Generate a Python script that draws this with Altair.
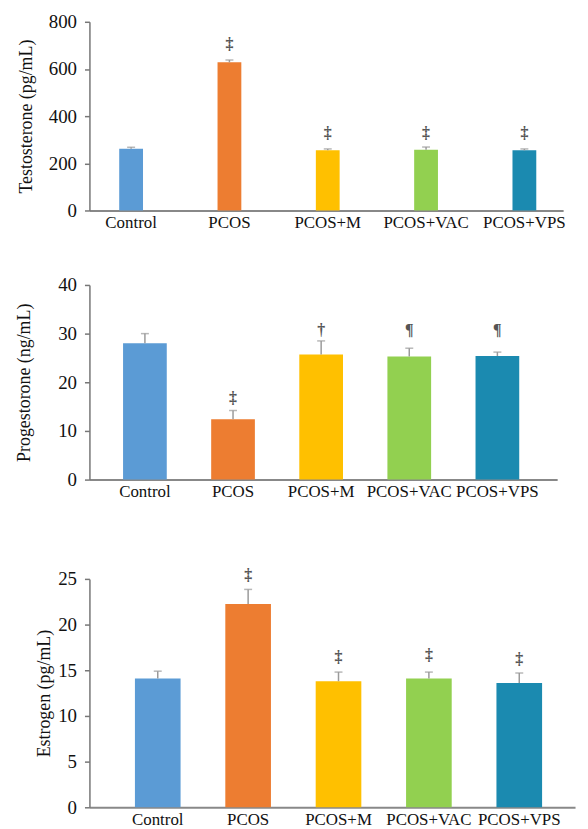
import altair as alt
import pandas as pd

groups = ["Control", "PCOS", "PCOS+M", "PCOS+VAC", "PCOS+VPS"]
colors = ["#5B9BD5", "#ED7D31", "#FFC000", "#92D050", "#1B8AB0"]

testo = [262, 628, 255, 257, 255]
testo_err = [6, 10, 6, 12, 6]
testo_sig = ["", "‡", "‡", "‡", "‡"]
testo_sig_y = [None, 707, 328, 328, 328]

prog = [28.0, 12.4, 25.7, 25.3, 25.4]
prog_err = [2.0, 1.8, 2.8, 1.7, 0.8]
prog_sig = ["", "‡", "†", "¶", "¶"]
prog_sig_y = [None, 16.7, 30.7, 30.7, 30.7]

estr = [14.1, 22.25, 13.8, 14.1, 13.6]
estr_err = [0.8, 1.6, 1.0, 0.7, 1.1]
estr_sig = ["", "‡", "‡", "‡", "‡"]
estr_sig_y = [None, 25.4, 16.4, 16.7, 16.2]

FONT = "Liberation Serif"


def panel(vals, errs, sigs, sig_y, title, ymax, step, width, height,
          pin, pout, palign, tpad):
    df = pd.DataFrame({
        "group": groups,
        "value": vals,
        "hi": [v + e for v, e in zip(vals, errs)],
        "sig": sigs,
        "sig_y": sig_y,
    })
    xenc = alt.X("group:N", sort=groups,
                 scale=alt.Scale(paddingInner=pin, paddingOuter=pout, align=palign),
                 axis=alt.Axis(title=None, labelAngle=0, ticks=False, labelPadding=4,
                               labelFont=FONT, labelFontSize=17, labelColor="#111",
                               domainColor="#888", domainWidth=2))
    yscale = alt.Scale(domain=[0, ymax], nice=False)
    yaxis = alt.Axis(title=title, values=list(range(0, ymax + 1, step)), grid=False,
                     tickSize=5, tickColor="#777", tickWidth=1.5,
                     domainColor="#777", domainWidth=1.5,
                     labelFont=FONT, labelFontSize=19, labelColor="#111", labelPadding=8,
                     titleFont=FONT, titleFontSize=18, titleFontWeight="normal",
                     titleColor="#111", titlePadding=tpad)
    base = alt.Chart(df)
    bars = base.mark_bar().encode(
        x=xenc,
        y=alt.Y("value:Q", scale=yscale, axis=yaxis),
        color=alt.Color("group:N", scale=alt.Scale(domain=groups, range=colors), legend=None),
    )
    err = base.mark_rule(color="#9a9a9a", strokeWidth=1.5).encode(
        x=alt.X("group:N", sort=groups), y="value:Q", y2="hi:Q")
    cap = base.mark_tick(color="#9a9a9a", thickness=1.5, size=8).encode(
        x=alt.X("group:N", sort=groups), y="hi:Q")
    txt = base.transform_filter("datum.sig != ''").mark_text(
        font=FONT, fontSize=16, fontWeight="bold", color="#555", baseline="middle").encode(
        x=alt.X("group:N", sort=groups), y="sig_y:Q", text="sig:N")
    return alt.layer(bars, err, cap, txt).properties(width=width, height=height)


p1 = panel(testo, testo_err, testo_sig, testo_sig_y, "Testosterone (pg/mL)", 800, 200,
           477, 190, 0.758, 0.288, 0.526, 13)
p2 = panel(prog, prog_err, prog_sig, prog_sig_y, "Progestorone (ng/mL)", 40, 10,
           471, 196, 0.504, 0.406, 0.47, 24)
p3 = panel(estr, estr_err, estr_sig, estr_sig_y, "Estrogen (pg/mL)", 25, 5,
           489, 230, 0.495, 0.434, 0.58, 4).properties(
    title=alt.TitleParams(" ", fontSize=10, offset=12))

chart = alt.vconcat(p1, p2, p3, spacing=46).properties(
    padding={"left": 8, "top": 2, "right": 5, "bottom": 5}
).configure_view(stroke=None)

chart.save("out.html", embed_options={"renderer": "svg", "actions": False})
